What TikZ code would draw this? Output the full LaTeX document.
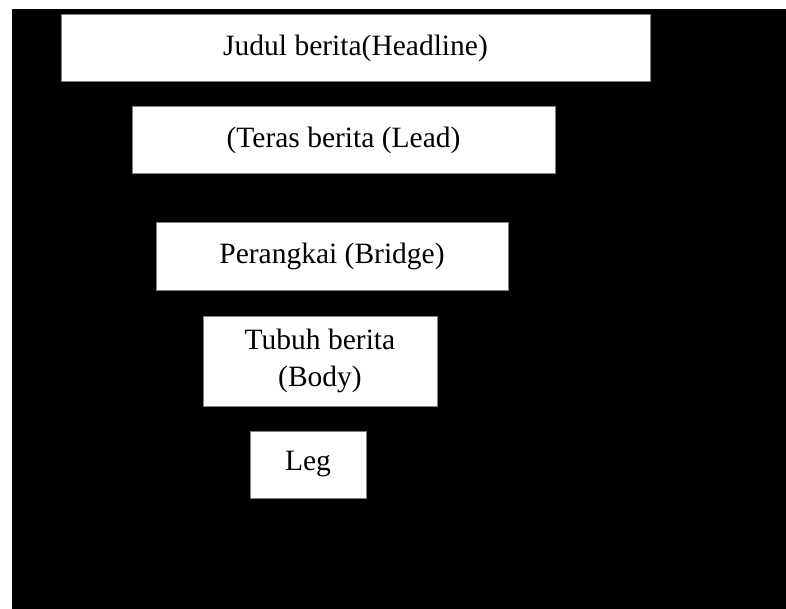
\documentclass[tikz,border=0pt]{standalone}
\usepackage{fontspec}
\setmainfont{Liberation Serif}
\usetikzlibrary{positioning}

\begin{document}
\begin{tikzpicture}[
    x=1pt, y=-1pt,
    every node/.style={
        rectangle, draw=gray,
        fill=white,
        line width=1pt,
        inner sep=0pt,
        align=center,
        font=\fontsize{29.5}{37}\selectfont
    }
]
\useasboundingbox (0,0) rectangle (786,609);
\fill[black] (12,9) rectangle (786,609);
\node[minimum width=589pt, minimum height=67pt] (headline) at (355.5,48) {Judul berita(Headline)};
\node[minimum width=423pt, minimum height=67pt] (lead) at (343.5,140.5) {(Teras berita (Lead)};
\node[minimum width=352pt, minimum height=67pt] (bridge) at (332,256.5) {Perangkai (Bridge)};
\node[minimum width=234pt, minimum height=90pt] (body) at (320,361) {Tubuh berita\\(Body)};
\node[minimum width=116pt, minimum height=67pt] (leg) at (308,464.5) {Leg};
\end{tikzpicture}
\end{document}
